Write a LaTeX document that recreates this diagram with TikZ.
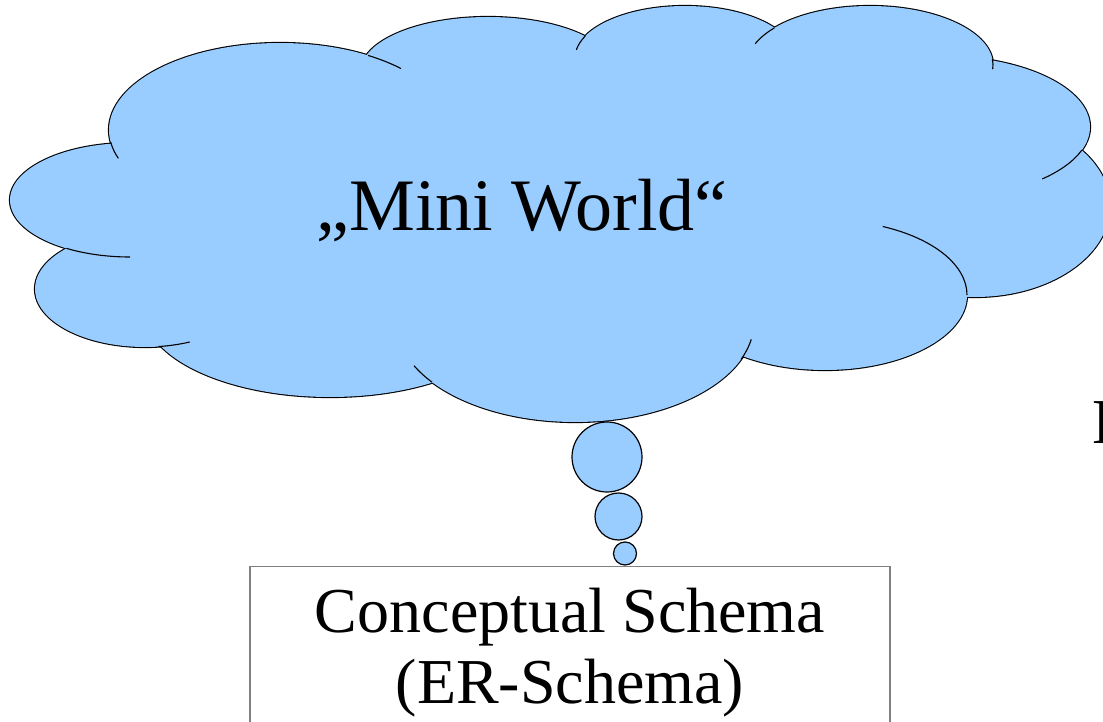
\documentclass[tikz,border=0pt]{standalone}
\usepackage{fontspec}
\setmainfont{Liberation Serif}
\definecolor{cloudblue}{RGB}{153,204,255}
\definecolor{boxgray}{RGB}{128,128,128}
% lobes of the cloud: centre x / centre y / x radius / y radius
\newcommand{\lobes}{280/130/171/87, 130/200/120/57, 145/289/110/58, 330/310/186/87, 575/322/179/100, 825/295/142/75, 975/206/135/91, 940/127/150/71, 870/65/123/59, 685/58/110/52, 488/71/127/54}

\begin{document}
\begin{tikzpicture}
[x=1pt,y=-1pt,
bubble/.style={circle,draw=black,fill=cloudblue,line width=1.2pt,inner sep=0pt},
schemabox/.style={draw=boxgray,line width=1.4pt,fill=white,anchor=north,minimum width=640pt,inner ysep=21pt,align=center,font=\fontsize{64}{71}\selectfont}]
\useasboundingbox (0,0) rectangle (1103,722);
\clip (0,0) rectangle (1103,722);
% cloud: rim first, the fill then hides its inner half
\foreach \cx/\cy/\rx/\ry in \lobes
\draw[line width=2.2pt] (\cx,\cy) ellipse [x radius=\rx, y radius=\ry];
\foreach \cx/\cy/\rx/\ry in \lobes
\fill[cloudblue] (\cx,\cy) ellipse [x radius=\rx, y radius=\ry];
\fill[cloudblue] (117,146) -- (369,58) -- (585,41) -- (772,33) -- (988,63) -- (1076,152) -- (963,292) -- (741,354) -- (432,378) -- (162,340) -- (70,247) -- cycle;
% short strokes inside the cloud
\foreach \cx/\cy/\rx/\ry/\a/\b in {280/130/171/87/172/161, 280/130/171/87/-59/-45, 130/200/120/57/122/90, 145/289/110/58/83/66, 575/322/179/100/143/154, 575/322/179/100/22/10, 825/295/142/75/0/-66, 685/58/110/52/205/189, 870/65/123/59/219/201, 870/65/123/59/-6/4, 940/127/150/71/19/47}
\draw[line width=1.1pt] ({\cx+\rx*cos(\a)},{\cy+\ry*sin(\a)}) arc [start angle=\a, end angle=\b, x radius=\rx, y radius=\ry];
\node[anchor=base,inner sep=0pt,font=\fontsize{74}{80}\selectfont] (world) at (522,230) {„Mini World“};
\node[bubble,minimum size=70pt] (b1) at (607,457) {};
\node[bubble,minimum size=47pt] (b2) at (618.5,516.5) {};
\node[bubble,minimum size=23pt] (b3) at (625,553.5) {};
\node[schemabox] (schema) at (570,566) {Conceptual Schema\\(ER-Schema)};
\node[anchor=base west,inner sep=0pt,font=\fontsize{64}{71}\selectfont] (edge) at (1092,443) {D};
\end{tikzpicture}
\end{document}
